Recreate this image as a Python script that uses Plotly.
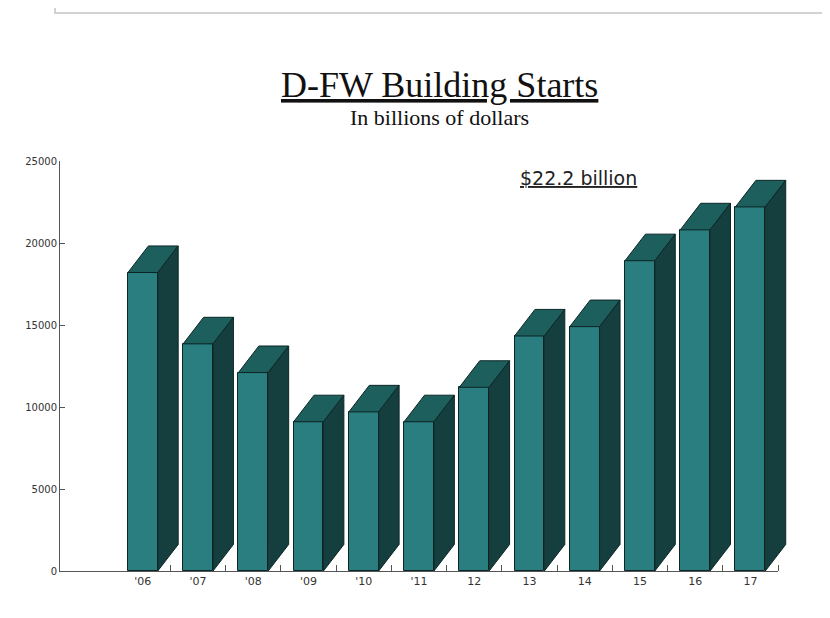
import plotly.graph_objects as go

# ---- data ----
years = ["'06", "'07", "'08", "'09", "'10", "'11", "12", "13", "14", "15", "16", "17"]
starts = [18200, 13850, 12100, 9100, 9700, 9100, 11200, 14330, 14900, 18920, 20800, 22200]
y_ticks = [0, 5000, 10000, 15000, 20000, 25000]
title_text = "D-FW Building Starts"
subtitle_text = "In billions of dollars"
callout_text = "$22.2 billion"

# ---- style ----
FRONT = "#2a7e7f"
TOP = "#1d5f5d"
SIDE = "#143f3e"
EDGE = "#0c2626"
BAR_W = 0.54
DEPTH_X = 0.37      # in category units
DEPTH_Y = 1620      # in value units

# layout geometry: visible axis 718 px wide inside a 740 px plot area,
# so the 3D depth of the last bar is not clipped
AREA_W = 740
AXIS_W = 718
n = len(years)
x_lo = -1.5
x_hi = n - 0.5
x2_hi = x_lo + (x_hi - x_lo) * AREA_W / AXIS_W

fig = go.Figure()
idx = list(range(n))

fig.add_trace(go.Bar(
    x=idx, y=starts, width=BAR_W, xaxis="x2", yaxis="y",
    marker=dict(color=FRONT, line=dict(color=EDGE, width=1)),
    hoverinfo="skip", showlegend=False,
))

for i, v in zip(idx, starts):
    l, r = i - BAR_W / 2, i + BAR_W / 2
    # top face
    fig.add_trace(go.Scatter(
        x=[l, r, r + DEPTH_X, l + DEPTH_X, l],
        y=[v, v, v + DEPTH_Y, v + DEPTH_Y, v],
        xaxis="x2", yaxis="y",
        mode="lines", fill="toself", fillcolor=TOP,
        line=dict(color=EDGE, width=1), hoverinfo="skip", showlegend=False,
    ))
    # side face
    fig.add_trace(go.Scatter(
        x=[r, r, r + DEPTH_X, r + DEPTH_X, r],
        y=[0, v, v + DEPTH_Y, DEPTH_Y, 0],
        xaxis="x2", yaxis="y",
        mode="lines", fill="toself", fillcolor=SIDE,
        line=dict(color=EDGE, width=1), hoverinfo="skip", showlegend=False,
    ))

# invisible trace to keep the visible x axis active
fig.add_trace(go.Scatter(x=[x_lo, x_hi], y=[None, None], mode="lines",
                         xaxis="x", yaxis="y", hoverinfo="skip", showlegend=False))

fig.update_layout(
    width=822, height=610,
    margin=dict(l=52, r=822 - 52 - AREA_W, t=153, b=47),
    paper_bgcolor="white", plot_bgcolor="rgba(0,0,0,0)",
    bargap=0,
    xaxis=dict(
        domain=[0, AXIS_W / AREA_W],
        range=[x_lo, x_hi],
        tickmode="array", tickvals=idx, ticktext=years,
        ticks="", showgrid=False, zeroline=False,
        showline=True, linecolor="#555", linewidth=1,
        tickfont=dict(family="DejaVu Sans", size=11, color="#333"),
        minor=dict(tickmode="array",
                   tickvals=[i + 0.5 for i in idx],
                   ticks="inside", ticklen=6, tickcolor="#555", showgrid=False),
    ),
    xaxis2=dict(
        domain=[0, 1], range=[x_lo, x2_hi], anchor="y",
        visible=False, showgrid=False, zeroline=False,
    ),
    yaxis=dict(
        range=[0, 25000],
        tickmode="array", tickvals=y_ticks, ticktext=[str(t) for t in y_ticks],
        ticks="inside", ticklen=5, tickcolor="#555",
        showgrid=False, zeroline=False,
        showline=True, linecolor="#555", linewidth=1,
        tickfont=dict(family="DejaVu Sans", size=10, color="#333"),
    ),
    annotations=[
        dict(text="<u>" + title_text + "</u>", xref="paper", yref="paper",
             x=379 / AREA_W, y=1.185, xanchor="center", yanchor="middle", showarrow=False,
             font=dict(family="Liberation Serif", size=36, color="#111")),
        dict(text=subtitle_text, xref="paper", yref="paper",
             x=379 / AREA_W, y=1.107, xanchor="center", yanchor="middle", showarrow=False,
             font=dict(family="Liberation Serif", size=22, color="#111")),
        dict(text="<u>" + callout_text + "</u>", xref="paper", yref="paper",
             x=518 / AREA_W, y=0.958, xanchor="center", yanchor="middle", showarrow=False,
             font=dict(family="DejaVu Sans", size=19, color="#222")),
    ],
    shapes=[
        dict(type="rect", xref="paper", yref="paper",
             x0=-5 / AREA_W, x1=765 / AREA_W, y0=1.361, y1=1.45,
             line=dict(color="#c4c4c4", width=1.5), fillcolor="white"),
    ],
)

fig.write_html("out.html")
